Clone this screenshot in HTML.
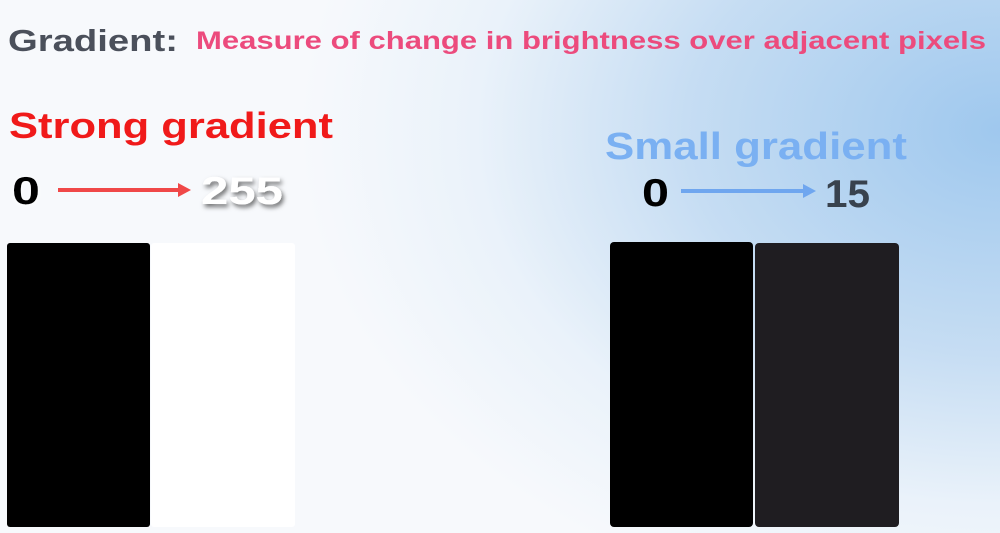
<!DOCTYPE html>
<html><head><meta charset="utf-8"><style>
html,body{margin:0;padding:0;width:1000px;height:533px;overflow:hidden}
body{background:radial-gradient(ellipse 700px 500px at 1000px 130px,#9fc8ee 0%,#c6ddf3 45%,#eaf2fa 75%,#f7f9fc 100%),#f7f9fc}
svg{position:absolute;left:0;top:0}
text{font-family:"Liberation Sans",sans-serif;font-weight:bold}
</style></head><body>
<svg width="1000" height="533" viewBox="0 0 1000 533">
<defs>
<filter id="sh" x="-20%" y="-20%" width="150%" height="150%"><feDropShadow dx="2" dy="3" stdDeviation="2.5" flood-color="#000" flood-opacity="0.55"/></filter>
<filter id="gl" x="-30%" y="-30%" width="160%" height="160%"><feDropShadow dx="0" dy="1" stdDeviation="2" flood-color="#fff" flood-opacity="1"/></filter>
</defs>
<text x="8" y="51" font-size="31" fill="#4b505b" textLength="170" lengthAdjust="spacingAndGlyphs">Gradient:</text>
<text x="196" y="49" font-size="25" fill="#ec4b7d" textLength="790" lengthAdjust="spacingAndGlyphs">Measure of change in brightness over adjacent pixels</text>
<text x="9" y="138" font-size="36" fill="#f01a1a" textLength="324" lengthAdjust="spacingAndGlyphs">Strong gradient</text>
<text x="12" y="204" font-size="39" fill="#000" filter="url(#gl)" textLength="28" lengthAdjust="spacingAndGlyphs">0</text>
<g><line x1="58" y1="190" x2="180" y2="190" stroke="#f04848" stroke-width="4"/><polygon points="191,190 178,183 178,197" fill="#f04848"/></g>
<text x="201" y="204" font-size="39" fill="#fff" filter="url(#sh)" textLength="82" lengthAdjust="spacingAndGlyphs">255</text>
<rect x="7" y="243" width="143" height="284" rx="3" fill="#000"/>
<rect x="151" y="243" width="144" height="284" rx="3" fill="#fff"/>
<text x="605" y="159" font-size="38" fill="#7ab0f2" textLength="302" lengthAdjust="spacingAndGlyphs">Small gradient</text>
<text x="642" y="206" font-size="39" fill="#000" textLength="27" lengthAdjust="spacingAndGlyphs">0</text>
<g><line x1="681" y1="191" x2="805" y2="191" stroke="#6fa6ef" stroke-width="4"/><polygon points="816,191 803,184 803,198" fill="#6fa6ef"/></g>
<text x="825" y="207" font-size="39" fill="#38424e" textLength="45" lengthAdjust="spacingAndGlyphs">15</text>
<rect x="610" y="242" width="143" height="285" rx="4" fill="#000"/>
<rect x="755" y="243" width="144" height="284" rx="4" fill="#1f1d21"/>
</svg>
</body></html>
